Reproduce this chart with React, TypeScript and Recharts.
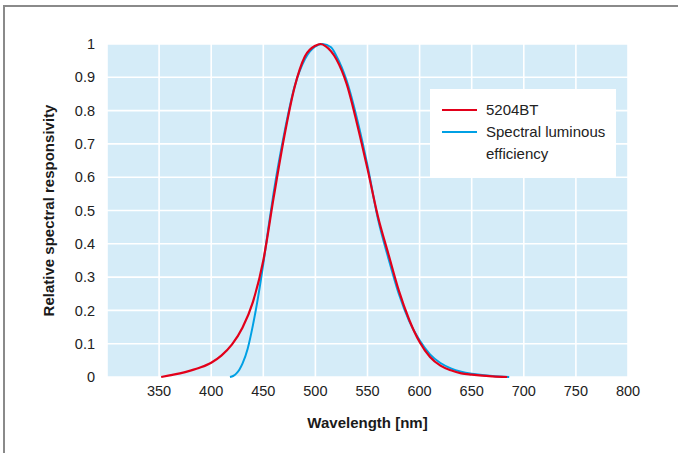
import { LineChart, Line, XAxis, YAxis, CartesianGrid, Legend } from "recharts";

// wavelength [nm] / relative value
const sensorNm = [352, 360, 370, 380, 390, 400, 410, 420, 430, 440, 450, 460, 470, 480, 490, 500, 505, 510, 520, 530, 540, 550, 560, 570, 580, 590, 600, 610, 620, 630, 640, 650, 660, 670, 684];
const sensorVal = [0.0, 0.005, 0.011, 0.019, 0.029, 0.043, 0.065, 0.098, 0.148, 0.225, 0.35, 0.54, 0.72, 0.87, 0.963, 0.995, 1.0, 0.993, 0.955, 0.88, 0.76, 0.625, 0.482, 0.37, 0.26, 0.172, 0.105, 0.06, 0.034, 0.02, 0.011, 0.007, 0.004, 0.002, 0.0];

const vLambdaNm = [418, 421, 424, 427, 430, 435, 440, 445, 450, 455, 460, 470, 480, 490, 500, 507, 515, 520, 530, 540, 550, 560, 570, 580, 590, 600, 610, 620, 630, 640, 650, 660, 670, 686];
const vLambdaVal = [0.0, 0.003, 0.01, 0.022, 0.04, 0.085, 0.155, 0.24, 0.34, 0.45, 0.555, 0.73, 0.872, 0.955, 0.993, 1.0, 0.99, 0.965, 0.89, 0.775, 0.635, 0.475, 0.357, 0.25, 0.168, 0.11, 0.068, 0.042, 0.026, 0.016, 0.01, 0.006, 0.003, 0.0];

const xTicks = [350, 400, 450, 500, 550, 600, 650, 700, 750, 800];
const yTicks = [0, 0.1, 0.2, 0.3, 0.4, 0.5, 0.6, 0.7, 0.8, 0.9, 1];

const sensorData = sensorNm.map((nm, i) => ({ nm, v: sensorVal[i] }));
const vLambdaData = vLambdaNm.map((nm, i) => ({ nm, v: vLambdaVal[i] }));

const RED = "#e2001a";
const BLUE = "#00a0e4";
const font = "'Liberation Sans', Arial, Helvetica, sans-serif";

function renderLegend() {
  const rows = [
    { color: RED, lines: ["5204BT"] },
    { color: BLUE, lines: ["Spectral luminous", "efficiency"] },
  ];
  return (
    <div style={{ background: "#fff", width: 186, height: 88, paddingTop: 10, boxSizing: "border-box" }}>
      {rows.map((r) => (
        <div key={r.lines[0]} style={{ display: "flex", alignItems: "flex-start" }}>
          <div style={{ width: 35, height: 2, background: r.color, marginLeft: 12, marginTop: 10, flexShrink: 0 }} />
          <div style={{ marginLeft: 9, fontSize: 15, lineHeight: "22px", color: "#222", textAlign: "left" }}>
            {r.lines.map((l) => (
              <div key={l}>{l}</div>
            ))}
          </div>
        </div>
      ))}
    </div>
  );
}

export default function App() {
  return (
    <div style={{ position: "absolute", left: 0, top: 0, width: 678, height: 453, background: "#fff", overflow: "hidden", fontFamily: font }}>
      <div style={{ position: "absolute", left: 3, top: 5, width: 700, height: 500, borderTop: "2px solid #8a8a8a", borderLeft: "2px solid #8a8a8a" }} />
      <LineChart width={678} height={453} margin={{ top: 44, right: 50, bottom: 46, left: 47 }}>
        <CartesianGrid fill="#d5ecf8" stroke="#ffffff" strokeWidth={1.6} />
        <XAxis
          type="number"
          dataKey="nm"
          domain={[300, 800]}
          ticks={xTicks}
          axisLine={false}
          tickLine={false}
          tickSize={0}
          tickMargin={9}
          height={30}
          tick={{ fill: "#222", fontSize: 14.5 }}
          label={{ value: "Wavelength [nm]", position: "bottom", offset: 10, style: { fontWeight: "bold", fontSize: 15, fill: "#1a1a1a" } }}
        />
        <YAxis
          type="number"
          domain={[0, 1]}
          ticks={yTicks}
          axisLine={false}
          tickLine={false}
          tickSize={0}
          tickMargin={12}
          width={60}
          tick={{ fill: "#222", fontSize: 14.5 }}
          label={{ value: "Relative spectral responsivity", angle: -90, position: "insideLeft", offset: 2, style: { textAnchor: "middle", fontWeight: "bold", fontSize: 15, fill: "#1a1a1a" } }}
        />
        <Legend
          layout="vertical"
          align="center"
          verticalAlign="middle"
          content={renderLegend}
          wrapperStyle={{ left: 430, top: 89, width: 186, height: 88 }}
        />
        <Line data={vLambdaData} dataKey="v" name="Spectral luminous efficiency" type="monotone" stroke={BLUE} strokeWidth={2} dot={false} isAnimationActive={false} />
        <Line data={sensorData} dataKey="v" name="5204BT" type="monotone" stroke={RED} strokeWidth={2.2} dot={false} isAnimationActive={false} />
      </LineChart>
    </div>
  );
}
